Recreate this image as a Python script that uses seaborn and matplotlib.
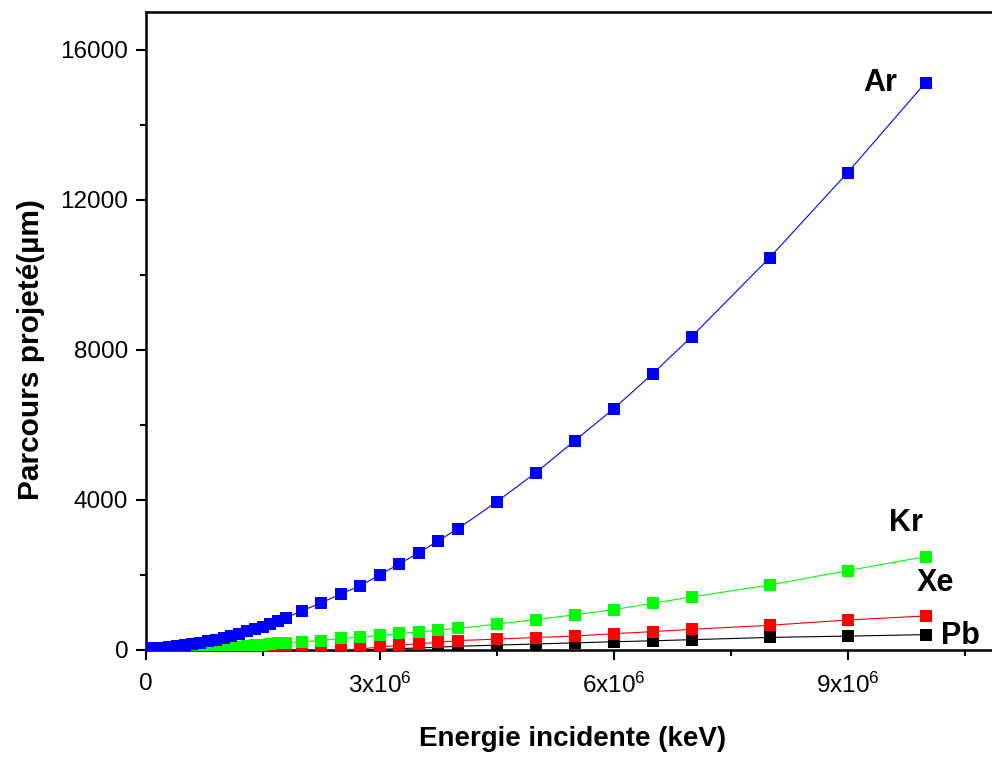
import numpy as np
import pandas as pd
import matplotlib
matplotlib.use("Agg")
import matplotlib.pyplot as plt
import seaborn as sns
from matplotlib.ticker import MultipleLocator, FixedLocator, FixedFormatter

# ---------------- data (energy in keV, projected range in µm) ----------------
ar_energy = [0.01e6, 0.1e6, 0.2e6, 0.3e6, 0.4e6, 0.5e6, 0.6e6, 0.7e6, 0.8e6, 0.9e6,
             1.0e6, 1.1e6, 1.2e6, 1.3e6, 1.4e6, 1.5e6, 1.6e6, 1.7e6, 1.8e6,
             2.0e6, 2.25e6, 2.5e6, 2.75e6, 3.0e6, 3.25e6, 3.5e6, 3.75e6, 4.0e6,
             4.5e6, 5.0e6, 5.5e6, 6.0e6, 6.5e6, 7.0e6, 8.0e6, 9.0e6, 10.0e6]
ar_range = [35, 50, 65, 85, 110, 135, 165, 198, 235, 275,
            320, 375, 435, 495, 560, 625, 695, 775, 855,
            1040, 1253, 1493, 1707, 2000, 2293, 2587, 2907, 3227,
            3947, 4720, 5573, 6427, 7360, 8347, 10453, 12720, 15120]

kr_energy = [0.5e6, 0.6e6, 0.7e6, 0.8e6, 0.9e6, 1.0e6, 1.1e6, 1.2e6, 1.3e6, 1.4e6,
             1.5e6, 1.6e6, 1.7e6, 1.8e6,
             2.0e6, 2.25e6, 2.5e6, 2.75e6, 3.0e6, 3.25e6, 3.5e6, 3.75e6, 4.0e6,
             4.5e6, 5.0e6, 5.5e6, 6.0e6, 6.5e6, 7.0e6, 8.0e6, 9.0e6, 10.0e6]
kr_range = [0, 0, 0, 5, 12, 22, 50, 85, 105, 125,
            145, 162, 180, 195,
            219, 253, 307, 344, 387, 440, 477, 531, 573,
            690, 810, 939, 1075, 1245, 1413, 1733, 2115, 2488]

xe_energy = [1.3e6, 1.4e6, 1.5e6, 1.6e6, 1.7e6, 1.8e6,
             2.0e6, 2.25e6, 2.5e6, 2.75e6, 3.0e6, 3.25e6, 3.5e6, 3.75e6, 4.0e6,
             4.5e6, 5.0e6, 5.5e6, 6.0e6, 6.5e6, 7.0e6, 8.0e6, 9.0e6, 10.0e6]
xe_range = [0, 0, 0, 0, 0, 0,
            0, 0, 5, 27, 80, 124, 169, 204, 250,
            291, 333, 371, 435, 489, 552, 658, 800, 907]

pb_energy = [2.0e6, 2.25e6, 2.5e6, 2.75e6, 3.0e6, 3.25e6, 3.5e6, 3.75e6, 4.0e6,
             4.5e6, 5.0e6, 5.5e6, 6.0e6, 6.5e6, 7.0e6, 8.0e6, 9.0e6, 10.0e6]
pb_range = [0, 2, 5, 10, 20, 35, 55, 75, 100,
            130, 160, 190, 220, 245, 275, 335, 370, 410]

ions = ["Pb", "Xe", "Kr", "Ar"]
ion_colors = {"Ar": "#0000FF", "Kr": "#00FF00", "Xe": "#FF0000", "Pb": "#000000"}

x_tick_values = [0, 3e6, 6e6, 9e6]
x_tick_labels = ["0", r"$\mathregular{3x10^{6}}$", r"$\mathregular{6x10^{6}}$",
                 r"$\mathregular{9x10^{6}}$"]
y_tick_values = [0, 4000, 8000, 12000, 16000]
y_tick_labels = ["0", "4000", "8000", "12000", "16000"]

x_label = "Energie incidente (keV)"
y_label = "Parcours projeté(µm)"

# ---------------- style ----------------
sns.set_style("white")
plt.rcParams["font.family"] = ["Liberation Sans", "DejaVu Sans"]
plt.rcParams["mathtext.fontset"] = "custom"
plt.rcParams["mathtext.rm"] = "Liberation Sans"
plt.rcParams["mathtext.it"] = "Liberation Sans:italic"
plt.rcParams["mathtext.bf"] = "Liberation Sans:bold"
plt.rcParams["text.color"] = "black"
plt.rcParams["axes.labelcolor"] = "black"

frames = []
for name, xs, ys in [("Ar", ar_energy, ar_range), ("Kr", kr_energy, kr_range),
                     ("Xe", xe_energy, xe_range), ("Pb", pb_energy, pb_range)]:
    frames.append(pd.DataFrame({"energy": xs, "range": ys, "ion": name}))
df = pd.concat(frames, ignore_index=True)

fig = plt.figure(figsize=(9.92, 7.6), dpi=100)
W, H = 992, 760
left_px, right_px, top_px, bottom_px = 145.6, 1000, 12, 650
ax = fig.add_axes([left_px / W, 1 - bottom_px / H,
                   (right_px - left_px) / W, (bottom_px - top_px) / H])

for z, ion in enumerate(ions):
    sub = df[df["ion"] == ion]
    sns.lineplot(data=sub, x="energy", y="range", ax=ax, color=ion_colors[ion],
                 marker="s", markersize=9.2, markeredgewidth=0,
                 linewidth=0.8, sort=False, estimator=None, legend=False,
                 zorder=3 + z)

x_per_px = 3e6 / 234.0
ax.set_xlim(0, (right_px - left_px) * x_per_px)
ax.set_ylim(0, 17000)

ax.xaxis.set_major_locator(FixedLocator(x_tick_values))
ax.xaxis.set_major_formatter(FixedFormatter(x_tick_labels))
ax.xaxis.set_minor_locator(MultipleLocator(1.5e6))
ax.yaxis.set_major_locator(FixedLocator(y_tick_values))
ax.yaxis.set_major_formatter(FixedFormatter(y_tick_labels))
ax.yaxis.set_minor_locator(MultipleLocator(2000))

ax.tick_params(axis="both", which="major", direction="out", length=7.5, width=1.5,
               labelsize=17.5, color="black", labelcolor="black",
               bottom=True, left=True, top=False, right=False)
ax.tick_params(axis="both", which="minor", direction="out", length=4, width=1.5,
               color="black", bottom=True, left=True, top=False, right=False)
ax.tick_params(axis="x", which="major", pad=9)
ax.tick_params(axis="y", which="major", pad=5)

for side in ["left", "bottom", "top"]:
    ax.spines[side].set_visible(True)
    ax.spines[side].set_color("black")
    ax.spines[side].set_linewidth(1.8)
ax.spines["right"].set_visible(False)

ax.set_xlabel(x_label, fontsize=20, fontweight="bold")
ax.set_ylabel(y_label, fontsize=21.5, fontweight="bold")
axw = right_px - left_px
axh = bottom_px - top_px
ax.xaxis.set_label_coords((573 - left_px) / axw, -(726 - bottom_px) / axh)
ax.yaxis.set_label_coords(-(left_px - 45) / axw, (650 - 350) / axh)

# series labels
label_pos = {"Ar": (9.42e6, 15100), "Kr": (9.75e6, 3390),
             "Xe": (10.12e6, 1790), "Pb": (10.45e6, 370)}
for ion, (lx, ly) in label_pos.items():
    ax.text(lx, ly, ion, fontsize=22, fontweight="bold", ha="center", va="center",
            color="black")

fig.savefig("out.png", dpi=100)
